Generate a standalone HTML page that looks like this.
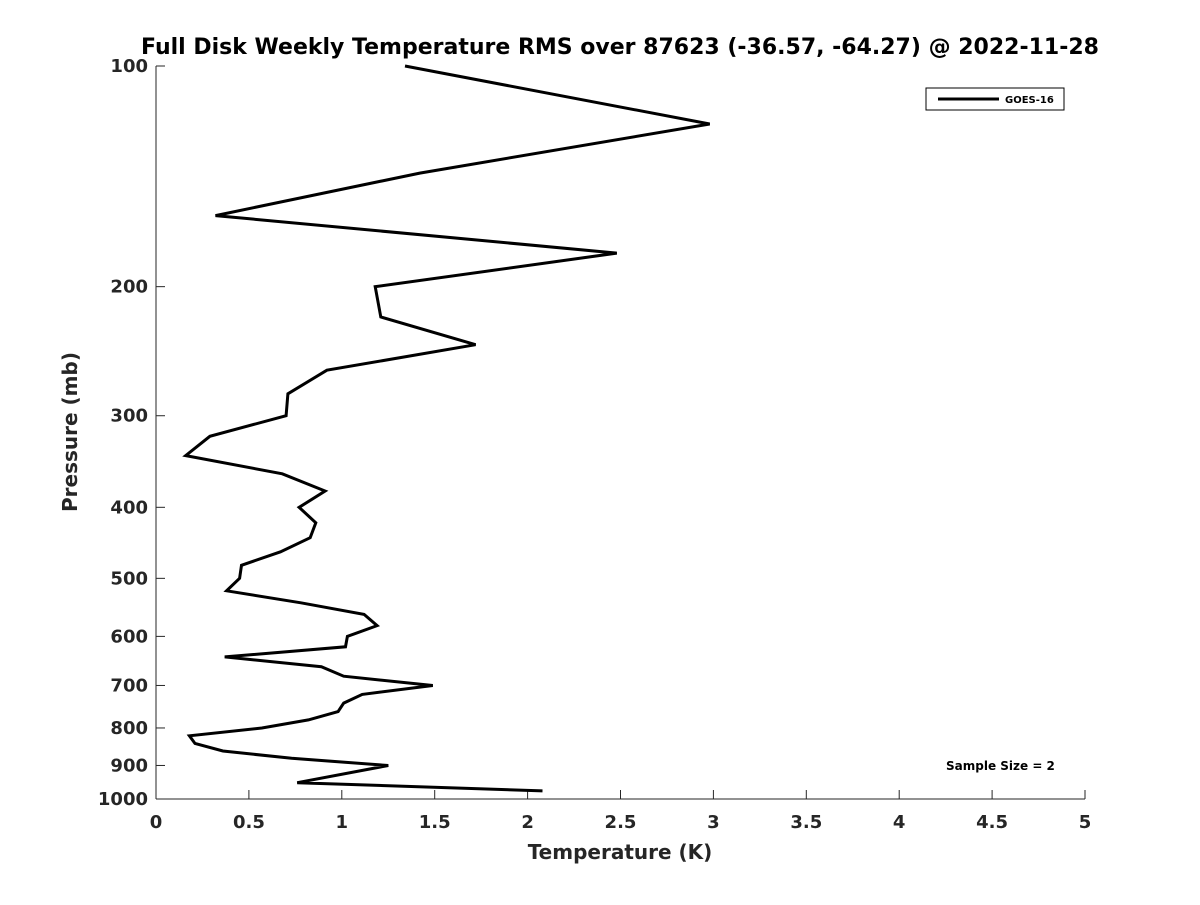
<!DOCTYPE html>
<html><head><meta charset="utf-8"><style>
body{margin:0;background:#fff;font-family:"Liberation Sans","DejaVu Sans",sans-serif}
svg text{font-family:"DejaVu Sans","Liberation Sans",sans-serif;font-weight:bold;fill:#262626}
</style></head><body>
<svg id="chart" width="1200" height="900" xmlns="http://www.w3.org/2000/svg">
<rect width="1200" height="900" fill="#fff"/>
<text x="620" y="54" text-anchor="middle" font-size="22" style="fill:#000">Full Disk Weekly Temperature RMS over 87623 (-36.57, -64.27) @ 2022-11-28</text>
<g id="axes"></g>
<text x="620" y="859" text-anchor="middle" font-size="20">Temperature (K)</text>
<text transform="translate(77,432) rotate(-90)" text-anchor="middle" font-size="20">Pressure (mb)</text>
<g>
<rect x="926" y="88" width="138" height="22" fill="#fff" stroke="#000" stroke-width="1"/>
<line x1="938" y1="99" x2="999" y2="99" stroke="#000" stroke-width="3"/>
<text x="1005" y="103" font-size="10" style="fill:#000">GOES-16</text>
</g>
<text x="946" y="770" font-size="12" style="fill:#000">Sample Size = 2</text>
</svg>
<script>
const pressures=[100,120,140,160,180,200,220,240,260,280,300,320,340,360,380,400,420,440,460,480,500,520,540,560,580,600,620,640,660,680,700,720,740,760,780,800,820,840,860,880,900,950,975];
const temps=[1.34,2.98,1.42,0.32,2.48,1.18,1.21,1.72,0.92,0.71,0.70,0.29,0.16,0.68,0.91,0.77,0.86,0.83,0.67,0.46,0.45,0.38,0.78,1.12,1.19,1.03,1.02,0.37,0.89,1.01,1.49,1.11,1.01,0.98,0.82,0.57,0.18,0.21,0.36,0.73,1.25,0.76,2.08];
const xTicks=[0,0.5,1,1.5,2,2.5,3,3.5,4,4.5,5];
const yTicks=[100,200,300,400,500,600,700,800,900,1000];
const X0=156,X1=1085,Y0=66,Y1=799;
const xs=v=>X0+(v/5)*(X1-X0);
const ys=p=>Y0+(Math.log10(p)-2)*(Y1-Y0);
const NS="http://www.w3.org/2000/svg";
const svg=document.getElementById('chart');
const ax=document.getElementById('axes');
function mk(t,a,parent){const e=document.createElementNS(NS,t);for(const k in a)e.setAttribute(k,a[k]);(parent||ax).appendChild(e);return e;}
const xl=mk('line',{x1:X0,y1:Y1,x2:X1,y2:Y1,stroke:'#262626','stroke-width':1});


const yl=mk('line',{x1:X0,y1:Y0,x2:X0,y2:Y1,stroke:'#262626','stroke-width':1});


xTicks.forEach(v=>{
 const x=xs(v);
 mk('line',{x1:x,y1:Y1,x2:x,y2:Y1-9,stroke:'#262626'});
 const t=mk('text',{x:x,y:Y1+29,'text-anchor':'middle','font-size':18});
 t.textContent=String(v);
 
 
});
yTicks.forEach(p=>{
 const y=ys(p);
 mk('line',{x1:X0,y1:y,x2:X0+9,y2:y,stroke:'#262626'});
 const t=mk('text',{x:X0-8,y:y+6,'text-anchor':'end','font-size':18});
 t.textContent=String(p);
 
 
});
const pts=pressures.map((p,i)=>xs(temps[i]).toFixed(1)+','+ys(p).toFixed(1)).join(' ');
const line=mk('polyline',{points:pts,fill:'none',stroke:'#000','stroke-width':3,'stroke-linejoin':'miter'});


</script>
</body></html>
